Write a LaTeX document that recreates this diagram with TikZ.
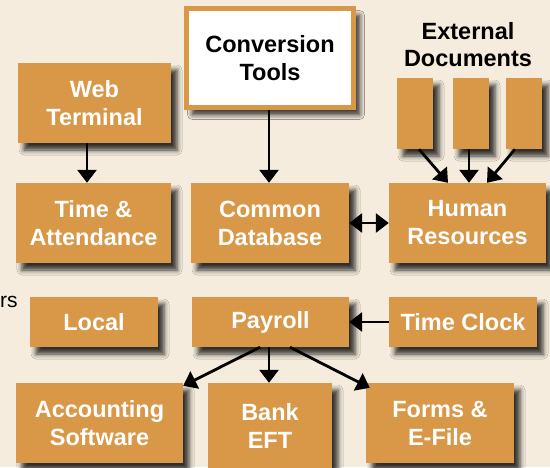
\documentclass[tikz,border=0pt]{standalone}
\usepackage{fontspec}
\setmainfont{Liberation Sans}
\usetikzlibrary{arrows.meta,shadows.blur}
\definecolor{bgc}{RGB}{245,236,221}
\definecolor{boxc}{RGB}{217,151,72}
\tikzset{
  shad/.style={blur shadow={shadow xshift=6pt, shadow yshift=-7pt, shadow blur radius=5pt, shadow opacity=80}},
  box/.style={fill=boxc, draw=none, text=white, align=center, inner sep=0pt, shad,
    font=\fontsize{23.5}{28}\selectfont\bfseries},
  doc/.style={fill=boxc, draw=none, minimum width=36pt, minimum height=71pt, inner sep=0pt, shad},
  arr/.style={line width=2.8pt, -{Triangle[width=19pt,length=13pt]}},
  darr/.style={line width=2.8pt, {Triangle[width=19pt,length=13pt]}-{Triangle[width=19pt,length=13pt]}},
}
\begin{document}
\begin{tikzpicture}[x=1pt,y=-1pt]
\useasboundingbox (0,0) rectangle (550,467);
\fill[bgc] (0,0) rectangle (550,467);

\node[anchor=base west, inner sep=0pt, font=\fontsize{21}{24}\selectfont] (rs) at (0,307) {rs};

\node[box, minimum width=153pt, minimum height=80pt] (web) at (94.5,103) {Web\\Terminal};
\node[box, fill=white, draw=boxc, line width=5pt, text=black, minimum width=167pt, minimum height=99pt,
      blur shadow={shadow xshift=6pt, shadow yshift=-7pt, shadow blur radius=5pt, shadow opacity=50}] (conv) at (270,58) {Conversion\\Tools};
\node[align=center, inner sep=0pt, font=\fontsize{23.5}{27}\selectfont\bfseries] (ext) at (468,45) {External\\Documents};
\node[doc] (d1) at (415,113.5) {};
\node[doc] (d2) at (471,113.5) {};
\node[doc] (d3) at (524,113.5) {};

\node[box, minimum width=155pt, minimum height=80pt] (ta) at (93.5,223) {Time \&\\Attendance};
\node[box, minimum width=158pt, minimum height=80pt] (db) at (270,223) {Common\\Database};
\node[box, minimum width=157pt, minimum height=80pt] (hr) at (467.5,223) {Human\\Resources};

\node[box, minimum width=128pt, minimum height=50pt] (local) at (94,322) {Local};
\node[box, minimum width=157pt, minimum height=50pt] (pay) at (270.5,322) {Payroll};
\node[box, minimum width=148pt, minimum height=50pt] (tc) at (463,322) {Time Clock};

\node[box, minimum width=167pt, minimum height=80pt] (acc) at (99.5,423) {Accounting\\Software};
\node[box, minimum width=124pt, minimum height=86pt] (bank) at (270,426) {Bank\\EFT};
\node[box, minimum width=148pt, minimum height=80pt] (forms) at (440,423) {Forms \&\\E-File};

\draw[arr] ([xshift=-7.5pt]web.south) -- ([xshift=-6.5pt]ta.north);
\draw[arr] ([xshift=-1pt]conv.south) -- ([xshift=-1pt]db.north);
\draw[darr] (db.east) -- (hr.west);
\draw[arr] ([xshift=4pt]d1.south) -- ([xshift=-19.5pt]hr.north);
\draw[arr] ([xshift=-2pt]d2.south) -- ([xshift=1.5pt]hr.north);
\draw[arr] ([xshift=-9pt]d3.south) -- ([xshift=19.5pt]hr.north);
\draw[arr] (tc.west) -- (pay.east);
\draw[arr] ([xshift=-10.5pt]pay.south) -- ([yshift=-3pt]acc.north east);
\draw[arr] ([xshift=-1.5pt]pay.south) -- ([xshift=-1pt]bank.north);
\draw[arr] ([xshift=19.5pt]pay.south) -- ([xshift=4pt,yshift=-5pt]forms.north west);
\end{tikzpicture}
\end{document}
